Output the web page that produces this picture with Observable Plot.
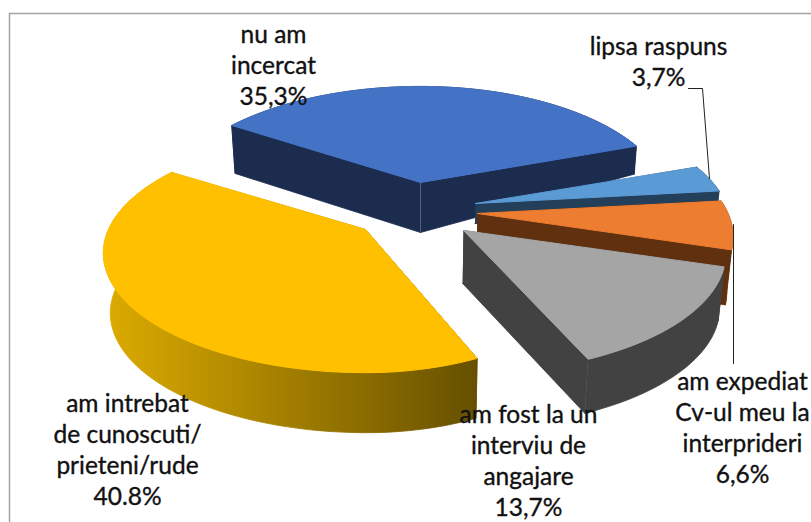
<!DOCTYPE html>
<html>
<head>
<meta charset="utf-8">
<script src="https://cdn.jsdelivr.net/npm/d3@7"></script>
<script src="https://cdn.jsdelivr.net/npm/@observablehq/plot@0.6"></script>
<style>html,body{margin:0;padding:0;background:#fff;overflow:hidden}svg{display:block}</style>
</head>
<body>
<div id="chart"></div>
<script>
// Data, in pie order (counter-clockwise on screen starting from the front)
const categories = ["am fost la un\ninterviu de\nangajare", "am expediat\nCv-ul meu la\ninterprideri", "lipsa raspuns", "nu am\nincercat", "am intrebat\nde cunoscuti/\nprieteni/rude"];
const values = [13.7, 6.6, 3.7, 35.3, 40.8];
const valueLabels = ["13,7%", "6,6%", "3,7%", "35,3%", "40.8%"];

// Colours
const topColors = ["#a5a5a5", "#ed7d31", "#5b9bd5", "#4472c4", "#ffc000"];
const wallColors = ["#424242", "#61300f", "#243f5a", "#1b2c4f", "url(#goldWall)"];

// Layout of the tilted, exploded pie
const view = {Rx: 257, Ry: 115, k: 0.197, startDeg: 23.4, lean: 0.02, leanAt: 420};
const apexX = [463, 477, 475, 420, 365];
const apexY = [230, 213, 203, 182, 229];
const widenRight = [1, 0.975, 0.975, 0.952, 0.896];
const widenLeft = [1, 1, 1, 0.974, 1];
const depthFirst = [54, 55, 20, 28, 60];
const depthApex = [53, 55, 20, 50, 60];
const depthLast = [54, 55, 20, 48, 60];
const drawOrder = [3, 2, 1, 0, 4];
const labelX = [528, 742, 658, 273, 127];
const labelY = [415, 382, 47, 35, 404];
const lineStep = 31;

const total = d3.sum(values);
const toRad = Math.PI / 180;

function project(i, theta) {
  const u = Math.sin(theta), v = Math.cos(theta), w = 1 - view.k * v;
  const dx = view.Rx * u / w;
  return [apexX[i] + dx * (dx > 0 ? widenRight[i] : widenLeft[i]), apexY[i] + view.Ry * v / w];
}
function drop([x, y], d) {
  return [x + (view.leanAt - x) * view.lean * d / 55, y + d];
}
function poly(id, pts, fill) {
  return pts.map(([x, y]) => ({id, x, y, fill}));
}

let acc = view.startDeg * toRad;
const spans = values.map(v => {
  const a0 = acc; acc += (v / total) * 2 * Math.PI;
  return [a0, acc];
});

const sliceMarks = [];
for (const i of drawOrder) {
  const [a0, a1] = spans[i];
  const n = Math.max(12, Math.round((a1 - a0) / (2 * toRad)));
  const rim = d3.range(n + 1).map(j => {
    const t = j / n;
    return {p: project(i, a0 + (a1 - a0) * t), d: depthFirst[i] + (depthLast[i] - depthFirst[i]) * t};
  });
  const apex = [apexX[i], apexY[i]];
  const apexLow = drop(apex, depthApex[i]);
  const rimTop = rim.map(r => r.p);
  const rimLow = rim.map(r => drop(r.p, r.d));
  const polys = [
    poly("r", [...rimTop, ...rimLow.slice().reverse()], wallColors[i]),
    poly("s", [apex, rimTop[0], rimLow[0], apexLow], wallColors[i]),
    poly("e", [apex, rimTop[n], rimLow[n], apexLow], wallColors[i])
  ];
  for (const rows of polys) {
    sliceMarks.push(Plot.line(rows, {x: "x", y: "y", fill: rows[0].fill, stroke: rows[0].fill, strokeWidth: 0.8, curve: "linear"}));
  }
  const top = poly("t", [apex, ...rimTop, apex], topColors[i]);
  sliceMarks.push(Plot.line(top, {x: "x", y: "y", fill: topColors[i], stroke: topColors[i], strokeWidth: 1, curve: "linear"}));
}

const labels = categories.map((c, i) => {
  return {text: c + "\n" + valueLabels[i], x: labelX[i], y: labelY[i]};
});
const labelRows = labels.flatMap(l => l.text.split("\n").map((t, j) => ({t, x: l.x, y: l.y + j * lineStep})));

function gradient() {
  const defs = d3.create("svg:defs");
  const g = defs.append("linearGradient").attr("id", "goldWall").attr("gradientUnits", "userSpaceOnUse")
    .attr("x1", 105).attr("x2", 477).attr("y1", 0).attr("y2", 0);
  g.append("stop").attr("offset", "0").attr("stop-color", "#dcab00");
  g.append("stop").attr("offset", "1").attr("stop-color", "#665000");
  return defs.node();
}

const chart = Plot.plot({
  width: 811, height: 522,
  margin: 0,
  x: {domain: [0, 811], range: [0, 811], axis: null},
  y: {domain: [0, 522], range: [0, 522], axis: null},
  style: {background: "#fff"},
  marks: [
    gradient,
    Plot.line([[9, 522], [9, 13], [811, 13]], {stroke: "#a3a3a3", strokeWidth: 1.5, curve: "linear"}),
    ...sliceMarks,
    Plot.line([[688, 88], [702, 88], [709, 178]], {stroke: "#222", strokeWidth: 1, curve: "linear"}),
    Plot.line([[733, 224], [733, 363]], {stroke: "#222", strokeWidth: 1, curve: "linear"}),
    Plot.text(labelRows, {x: "x", y: "y", text: "t", fontFamily: "Lato", fontSize: 24.5, fill: "#111", stroke: "#111", strokeWidth: 0.35, textAnchor: "middle", lineAnchor: "middle"})
  ]
});
document.getElementById("chart").append(chart);
</script>
</body>
</html>
